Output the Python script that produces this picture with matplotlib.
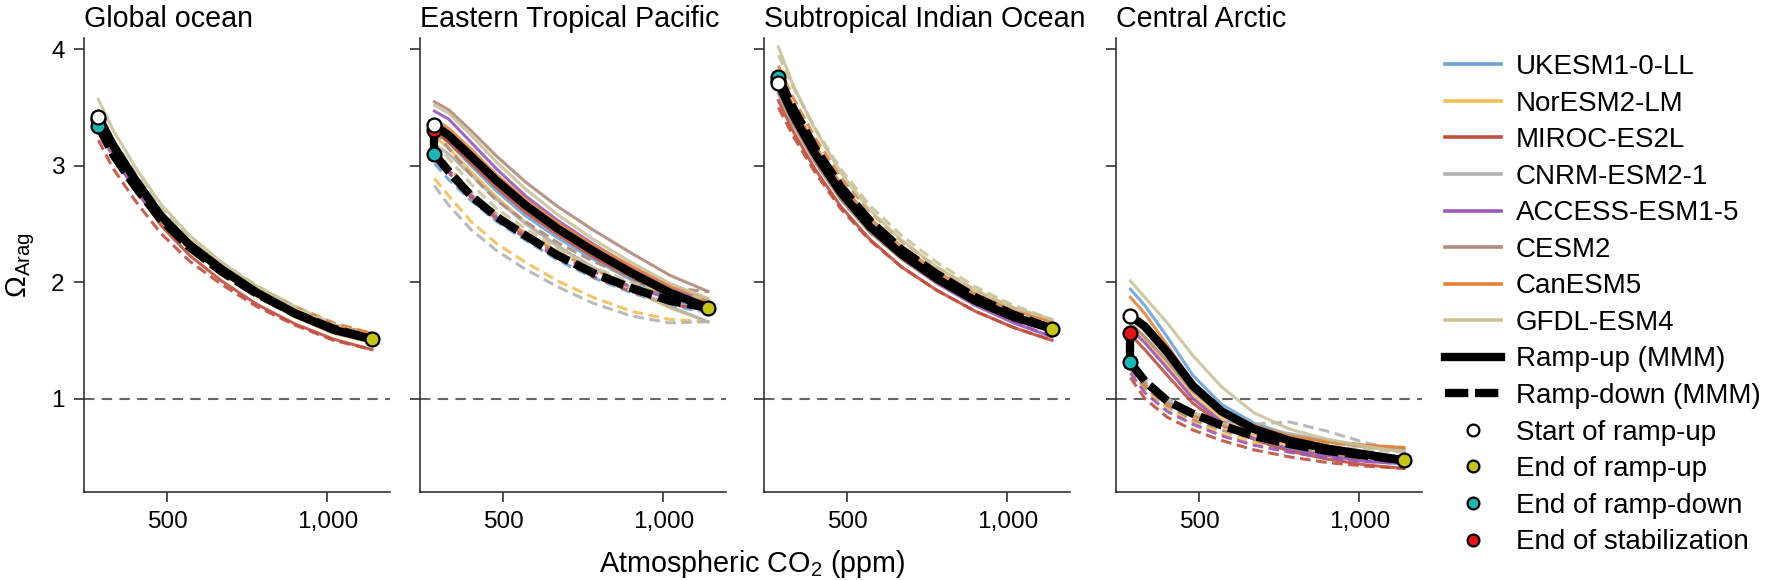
import matplotlib
matplotlib.use("Agg")
import matplotlib.pyplot as plt
from matplotlib.lines import Line2D
from matplotlib.ticker import FuncFormatter

plt.rcParams['font.family'] = ['Liberation Sans', 'DejaVu Sans']
plt.rcParams['mathtext.fontset'] = 'custom'
plt.rcParams['mathtext.rm'] = 'Liberation Sans'
plt.rcParams['mathtext.it'] = 'Liberation Sans:italic'

# atmospheric CO2 (ppm) where the curves are sampled
co2 = [285, 330, 400, 480, 570, 670, 780, 900, 1020, 1140]

models = ["UKESM1-0-LL", "NorESM2-LM", "MIROC-ES2L", "CNRM-ESM2-1",
          "ACCESS-ESM1-5", "CESM2", "CanESM5", "GFDL-ESM4"]
colors = ["#6aa3d6", "#f2bf55", "#c0503e", "#b3b3b3",
          "#9a58b8", "#b08a7c", "#e2843c", "#c9c39a"]
regions = ["Global ocean", "Eastern Tropical Pacific",
           "Subtropical Indian Ocean", "Central Arctic"]

# ---- Global ocean ----
glob_up = {
    "UKESM1-0-LL":   [3.45, 3.20, 2.90, 2.60, 2.34, 2.13, 1.93, 1.76, 1.62, 1.53],
    "NorESM2-LM":    [3.40, 3.16, 2.86, 2.55, 2.29, 2.08, 1.88, 1.70, 1.56, 1.48],
    "MIROC-ES2L":    [3.36, 3.11, 2.80, 2.49, 2.23, 2.01, 1.81, 1.64, 1.51, 1.42],
    "CNRM-ESM2-1":   [3.44, 3.19, 2.89, 2.58, 2.33, 2.12, 1.92, 1.74, 1.60, 1.52],
    "ACCESS-ESM1-5": [3.40, 3.16, 2.86, 2.56, 2.31, 2.10, 1.90, 1.72, 1.58, 1.50],
    "CESM2":         [3.46, 3.22, 2.91, 2.60, 2.35, 2.13, 1.93, 1.75, 1.61, 1.53],
    "CanESM5":       [3.44, 3.20, 2.90, 2.60, 2.35, 2.14, 1.94, 1.77, 1.63, 1.56],
    "GFDL-ESM4":     [3.57, 3.31, 2.99, 2.67, 2.40, 2.17, 1.96, 1.77, 1.62, 1.53],
}
glob_down = {
    "UKESM1-0-LL":   [3.38, 3.14, 2.86, 2.58, 2.35, 2.15, 1.96, 1.78, 1.64, 1.53],
    "NorESM2-LM":    [3.33, 3.09, 2.81, 2.52, 2.28, 2.07, 1.88, 1.71, 1.57, 1.48],
    "MIROC-ES2L":    [3.22, 2.98, 2.70, 2.42, 2.18, 1.98, 1.79, 1.63, 1.50, 1.42],
    "CNRM-ESM2-1":   [3.36, 3.12, 2.84, 2.56, 2.32, 2.11, 1.92, 1.75, 1.61, 1.52],
    "ACCESS-ESM1-5": [3.32, 3.08, 2.80, 2.53, 2.29, 2.08, 1.89, 1.72, 1.58, 1.50],
    "CESM2":         [3.38, 3.14, 2.86, 2.57, 2.33, 2.12, 1.93, 1.76, 1.62, 1.53],
    "CanESM5":       [3.36, 3.12, 2.85, 2.58, 2.35, 2.15, 1.96, 1.79, 1.65, 1.56],
    "GFDL-ESM4":     [3.48, 3.23, 2.94, 2.64, 2.39, 2.17, 1.97, 1.79, 1.64, 1.53],
}
glob_mmm_up = [3.42, 3.18, 2.88, 2.57, 2.32, 2.11, 1.91, 1.73, 1.59, 1.51]
glob_mmm_down = [3.34, 3.10, 2.82, 2.54, 2.30, 2.09, 1.90, 1.73, 1.60, 1.51]

# ---- Eastern Tropical Pacific ----
etp_up = {
    "UKESM1-0-LL":   [3.30, 3.20, 3.00, 2.78, 2.57, 2.38, 2.20, 2.02, 1.86, 1.74],
    "NorESM2-LM":    [3.25, 3.15, 2.95, 2.73, 2.51, 2.31, 2.12, 1.94, 1.78, 1.66],
    "MIROC-ES2L":    [3.30, 3.20, 3.02, 2.81, 2.60, 2.41, 2.22, 2.04, 1.88, 1.76],
    "CNRM-ESM2-1":   [3.18, 3.10, 2.92, 2.71, 2.50, 2.31, 2.13, 1.95, 1.79, 1.66],
    "ACCESS-ESM1-5": [3.47, 3.40, 3.20, 2.97, 2.74, 2.53, 2.33, 2.13, 1.96, 1.82],
    "CESM2":         [3.55, 3.48, 3.30, 3.08, 2.86, 2.65, 2.45, 2.25, 2.06, 1.92],
    "CanESM5":       [3.40, 3.32, 3.14, 2.92, 2.71, 2.51, 2.32, 2.14, 1.97, 1.85],
    "GFDL-ESM4":     [3.52, 3.45, 3.26, 3.03, 2.80, 2.58, 2.37, 2.17, 1.99, 1.86],
}
etp_down = {
    "UKESM1-0-LL":   [3.02, 2.88, 2.70, 2.52, 2.36, 2.19, 2.04, 1.91, 1.80, 1.74],
    "NorESM2-LM":    [2.89, 2.74, 2.52, 2.33, 2.17, 2.01, 1.87, 1.75, 1.68, 1.66],
    "MIROC-ES2L":    [3.08, 2.94, 2.73, 2.54, 2.38, 2.21, 2.05, 1.92, 1.81, 1.76],
    "CNRM-ESM2-1":   [2.83, 2.66, 2.45, 2.27, 2.11, 1.96, 1.82, 1.71, 1.65, 1.66],
    "ACCESS-ESM1-5": [3.10, 2.96, 2.75, 2.56, 2.40, 2.24, 2.09, 1.96, 1.86, 1.82],
    "CESM2":         [3.30, 3.15, 2.92, 2.70, 2.52, 2.34, 2.18, 2.04, 1.95, 1.92],
    "CanESM5":       [3.15, 2.99, 2.77, 2.58, 2.42, 2.26, 2.11, 1.98, 1.89, 1.85],
    "GFDL-ESM4":     [3.20, 3.06, 2.84, 2.63, 2.46, 2.29, 2.13, 2.00, 1.90, 1.86],
}
etp_mmm_up = [3.35, 3.26, 3.08, 2.87, 2.66, 2.46, 2.27, 2.08, 1.91, 1.78]
etp_mmm_down = [3.10, 2.95, 2.74, 2.56, 2.40, 2.23, 2.08, 1.95, 1.84, 1.78]

# ---- Subtropical Indian Ocean ----
sio_up = {
    "UKESM1-0-LL":   [3.75, 3.47, 3.12, 2.79, 2.50, 2.26, 2.05, 1.86, 1.72, 1.62],
    "NorESM2-LM":    [3.68, 3.41, 3.07, 2.75, 2.47, 2.23, 2.02, 1.84, 1.70, 1.61],
    "MIROC-ES2L":    [3.56, 3.30, 2.97, 2.65, 2.37, 2.13, 1.93, 1.75, 1.61, 1.50],
    "CNRM-ESM2-1":   [3.72, 3.45, 3.11, 2.78, 2.50, 2.26, 2.05, 1.86, 1.72, 1.63],
    "ACCESS-ESM1-5": [3.65, 3.38, 3.04, 2.72, 2.44, 2.20, 1.99, 1.80, 1.65, 1.53],
    "CESM2":         [3.62, 3.36, 3.03, 2.71, 2.43, 2.20, 2.00, 1.82, 1.68, 1.58],
    "CanESM5":       [3.80, 3.52, 3.17, 2.84, 2.55, 2.30, 2.09, 1.90, 1.76, 1.66],
    "GFDL-ESM4":     [4.02, 3.70, 3.31, 2.94, 2.62, 2.36, 2.13, 1.93, 1.78, 1.68],
}
sio_down = {
    "UKESM1-0-LL":   [3.78, 3.52, 3.17, 2.84, 2.55, 2.30, 2.08, 1.89, 1.74, 1.62],
    "NorESM2-LM":    [3.72, 3.46, 3.12, 2.80, 2.51, 2.27, 2.05, 1.86, 1.72, 1.61],
    "MIROC-ES2L":    [3.50, 3.26, 2.94, 2.63, 2.36, 2.13, 1.93, 1.75, 1.61, 1.50],
    "CNRM-ESM2-1":   [3.76, 3.50, 3.16, 2.83, 2.55, 2.30, 2.08, 1.89, 1.74, 1.63],
    "ACCESS-ESM1-5": [3.68, 3.42, 3.08, 2.76, 2.47, 2.23, 2.01, 1.82, 1.66, 1.53],
    "CESM2":         [3.66, 3.41, 3.08, 2.76, 2.48, 2.24, 2.03, 1.84, 1.69, 1.58],
    "CanESM5":       [3.86, 3.59, 3.24, 2.90, 2.61, 2.35, 2.13, 1.93, 1.78, 1.66],
    "GFDL-ESM4":     [3.95, 3.68, 3.32, 2.97, 2.66, 2.40, 2.17, 1.96, 1.80, 1.68],
}
sio_mmm_up = [3.71, 3.44, 3.10, 2.77, 2.48, 2.24, 2.03, 1.84, 1.70, 1.60]
sio_mmm_down = [3.76, 3.50, 3.15, 2.82, 2.53, 2.28, 2.07, 1.87, 1.72, 1.60]

# ---- Central Arctic ----
arc_up = {
    "UKESM1-0-LL":   [1.94, 1.80, 1.53, 1.20, 0.95, 0.79, 0.69, 0.63, 0.59, 0.57],
    "NorESM2-LM":    [1.62, 1.50, 1.28, 1.02, 0.83, 0.69, 0.60, 0.53, 0.49, 0.46],
    "MIROC-ES2L":    [1.55, 1.42, 1.20, 0.96, 0.78, 0.65, 0.55, 0.48, 0.43, 0.40],
    "CNRM-ESM2-1":   [1.70, 1.58, 1.36, 1.08, 0.88, 0.76, 0.70, 0.64, 0.58, 0.55],
    "ACCESS-ESM1-5": [1.60, 1.48, 1.26, 1.00, 0.80, 0.66, 0.57, 0.51, 0.46, 0.44],
    "CESM2":         [1.65, 1.53, 1.32, 1.06, 0.86, 0.72, 0.63, 0.56, 0.51, 0.47],
    "CanESM5":       [1.87, 1.73, 1.46, 1.14, 0.91, 0.77, 0.68, 0.63, 0.60, 0.58],
    "GFDL-ESM4":     [2.01, 1.87, 1.65, 1.37, 1.10, 0.88, 0.74, 0.65, 0.59, 0.54],
}
arc_down = {
    "UKESM1-0-LL":   [1.30, 1.14, 0.98, 0.86, 0.77, 0.72, 0.69, 0.64, 0.60, 0.57],
    "NorESM2-LM":    [1.25, 1.08, 0.92, 0.80, 0.70, 0.62, 0.56, 0.51, 0.48, 0.46],
    "MIROC-ES2L":    [1.18, 1.00, 0.84, 0.73, 0.64, 0.56, 0.50, 0.45, 0.42, 0.40],
    "CNRM-ESM2-1":   [1.32, 1.16, 1.00, 0.88, 0.80, 0.78, 0.80, 0.72, 0.62, 0.55],
    "ACCESS-ESM1-5": [1.22, 1.05, 0.89, 0.78, 0.68, 0.60, 0.54, 0.49, 0.46, 0.44],
    "CESM2":         [1.26, 1.10, 0.94, 0.82, 0.73, 0.65, 0.58, 0.53, 0.49, 0.47],
    "CanESM5":       [1.28, 1.12, 0.96, 0.85, 0.76, 0.70, 0.66, 0.62, 0.59, 0.58],
    "GFDL-ESM4":     [1.35, 1.18, 1.00, 0.88, 0.79, 0.71, 0.65, 0.60, 0.56, 0.54],
}
arc_mmm_up = [1.71, 1.62, 1.40, 1.11, 0.89, 0.74, 0.64, 0.57, 0.52, 0.47]
arc_mmm_down = [1.31, 1.15, 0.98, 0.87, 0.77, 0.68, 0.61, 0.55, 0.51, 0.47]

# multi-model mean at the end of the stabilization period (at 285 ppm)
stab_end = [3.40, 3.31, 3.73, 1.56]

ups = [glob_up, etp_up, sio_up, arc_up]
downs = [glob_down, etp_down, sio_down, arc_down]
mmm_ups = [glob_mmm_up, etp_mmm_up, sio_mmm_up, arc_mmm_up]
mmm_downs = [glob_mmm_down, etp_mmm_down, sio_mmm_down, arc_mmm_down]

W, H = 1773, 580
fig = plt.figure(figsize=(W / 100, H / 100), dpi=100)
lefts = [84, 420, 764, 1116]

c_start, c_end_up, c_end_down, c_stab = "white", "#c6c61c", "#1db5b5", "#e5141b"
mk = dict(marker="o", ms=10, mec="black", mew=1.6, ls="none")

for i, region in enumerate(regions):
    ax = fig.add_axes([lefts[i] / W, 88.3 / H, 306 / W, 454 / H])
    ax.axhline(1, color="#666666", lw=1.5, ls=(0, (5, 3.5)), zorder=1)
    for m, c in zip(models, colors):
        ax.plot(co2, ups[i][m], color=c, lw=2.2, alpha=0.9, zorder=2)
        ax.plot(co2, downs[i][m], color=c, lw=2.2, alpha=0.9,
                dashes=(3.5, 1.8), zorder=2)
    ax.plot(co2, mmm_downs[i], color="black", lw=6, dashes=(2.8, 0.8), zorder=3)
    ax.plot(co2, mmm_ups[i], color="black", lw=6, zorder=3,
            solid_capstyle="butt")
    ax.plot([co2[0], co2[0]], [mmm_downs[i][0], stab_end[i]],
            color="black", lw=6, zorder=3)
    ax.plot(co2[0], stab_end[i], mfc=c_stab, zorder=4, **mk)
    ax.plot(co2[0], mmm_downs[i][0], mfc=c_end_down, zorder=5, **mk)
    ax.plot(co2[0], mmm_ups[i][0], mfc=c_start, zorder=6, **mk)
    ax.plot(co2[-1], mmm_ups[i][-1], mfc=c_end_up, zorder=6, **mk)

    ax.set_xlim(240, 1196)
    ax.set_ylim(0.2, 4.1)
    ax.set_xticks([500, 1000])
    ax.set_yticks([1, 2, 3, 4])
    ax.xaxis.set_major_formatter(FuncFormatter(lambda v, p: f"{int(v):,}"))
    for s in ["top", "right"]:
        ax.spines[s].set_visible(False)
    for s in ["left", "bottom"]:
        ax.spines[s].set_color("#333333")
        ax.spines[s].set_linewidth(1.2)
    ax.tick_params(labelsize=17.6, length=7, width=1.2, color="#333333",
                   labelleft=(i == 0), pad=7)
    ax.set_title(region, loc="left", fontsize=20.6, pad=8)
    if i == 0:
        ax.set_ylabel(r"$\mathit{\Omega}_{\mathrm{Arag}}$", fontsize=21,
                      labelpad=10)

fig.text(752 / W, 16 / H, r"Atmospheric CO$_2$ (ppm)", fontsize=20.7,
         ha="center", va="center")

lmk = dict(mk, ms=8.5)
handles = [Line2D([], [], color=c, lw=2.6) for c in colors]
handles += [Line2D([], [], color="black", lw=6),
            Line2D([], [], color="black", lw=6, dashes=(2.8, 0.8)),
            Line2D([], [], mfc=c_start, **lmk),
            Line2D([], [], mfc=c_end_up, **lmk),
            Line2D([], [], mfc=c_end_down, **lmk),
            Line2D([], [], mfc=c_stab, **lmk)]
labels = models + ["Ramp-up (MMM)", "Ramp-down (MMM)", "Start of ramp-up",
                   "End of ramp-up", "End of ramp-down", "End of stabilization"]
fig.legend(handles, labels, loc="upper left",
           bbox_to_anchor=(1445 / W, 1 - 54 / H), frameon=False, fontsize=20,
           handlelength=2.0, handletextpad=0.54, labelspacing=0.38,
           borderpad=0, borderaxespad=0)

fig.savefig("out.png", dpi=100)
